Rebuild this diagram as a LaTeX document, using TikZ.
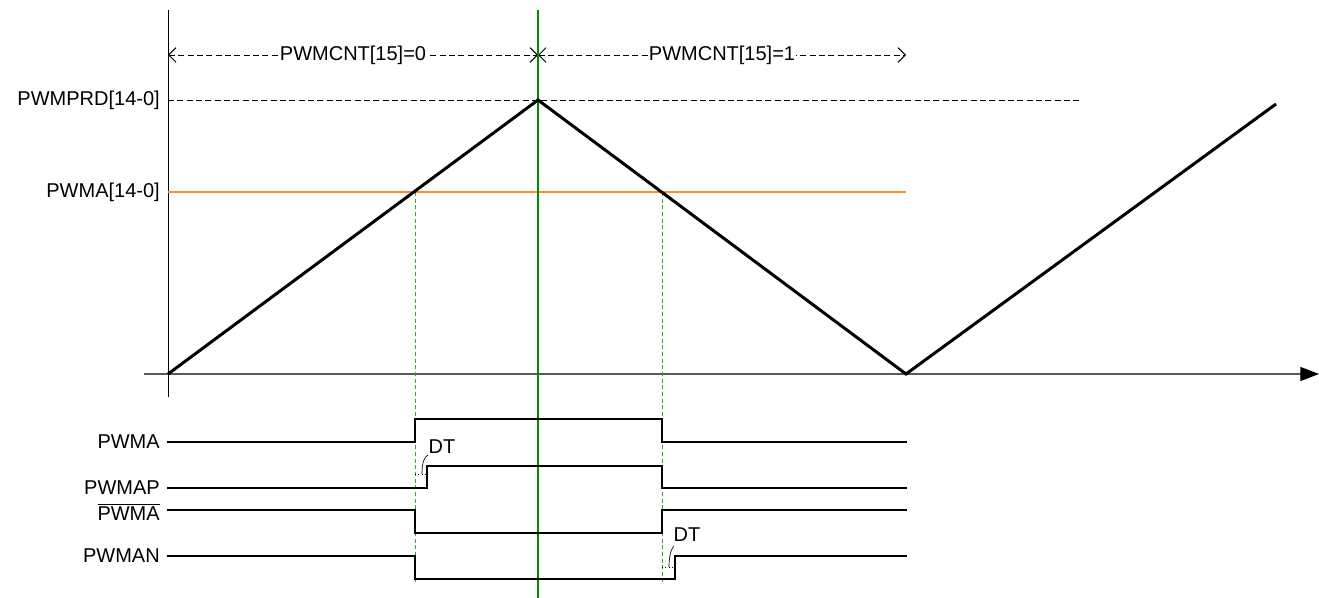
\documentclass[tikz,border=0pt]{standalone}
\usepackage{fontspec}
\setmainfont{Liberation Sans}
\usetikzlibrary{arrows.meta}
\definecolor{grn}{RGB}{0,140,0}
\definecolor{grnl}{RGB}{60,160,60}
\definecolor{org}{RGB}{255,140,50}
\definecolor{axgray}{RGB}{90,90,90}
\begin{document}
\begin{tikzpicture}[x=0.75pt,y=-0.75pt,
  lbl/.style={font=\fontsize{15}{18}\selectfont, inner sep=0pt, anchor=east},
  txt/.style={font=\fontsize{15}{18}\selectfont, inner sep=1pt},
  sig/.style={line width=1.5pt, line join=miter},
  tri/.style={line width=2.25pt, line join=miter},
  axisline/.style={axgray, line width=0.9pt},
  dimline/.style={line width=0.7pt, dash pattern=on 4.5pt off 2.5pt,
    {Straight Barb[length=5.5pt,width=11pt]}-{Straight Barb[length=5.5pt,width=11pt]}},
  refline/.style={line width=0.7pt, dash pattern=on 4.5pt off 2.5pt},
  guide/.style={grnl, line width=0.75pt, dash pattern=on 3pt off 2pt},
  dtmark/.style={line width=0.5pt, dotted},
  leader/.style={line width=0.5pt}
]
\useasboundingbox (0,0) rectangle (1319,598);

% key points
\coordinate (O) at (168,374);
\coordinate (P) at (538,100);
\coordinate (V) at (906,374);
\coordinate (E) at (1276,104);

% axes
\coordinate (ax0) at (144,374);
\coordinate (ax1) at (1319,374);
\draw[axisline, -{Triangle[length=14pt,width=10.5pt,color=black]}] (ax0) -- (ax1);
\coordinate (vy0) at (168,10);
\coordinate (vy1) at (168,397);
\draw[line width=0.75pt] (vy0) -- (vy1);

% level labels and lines
\node[lbl] (lprd) at (160,100) {PWMPRD[14-0]};
\node[lbl] (lcmp) at (160,192) {PWMA[14-0]};
\coordinate (prd0) at (168,100);
\coordinate (prd1) at (1080,100);
\draw[refline] (prd0) -- (prd1);
\coordinate (cmp0) at (168,192);
\coordinate (cmp1) at (906,192);
\draw[org, line width=1.1pt] (cmp0) -- (cmp1);

% dimension row
\coordinate (d0) at (168,55);
\coordinate (d1) at (538,55);
\coordinate (d2) at (906,55);
\draw[dimline] (d0) -- (d1) node[midway, fill=white, txt] (cnt0) {PWMCNT[15]=0};
\draw[dimline] (d1) -- (d2) node[midway, fill=white, txt] (cnt1) {PWMCNT[15]=1};

% guide lines
\coordinate (g1t) at (415,192);
\coordinate (g1b) at (415,582);
\coordinate (g2t) at (662,192);
\coordinate (g2b) at (662,582);
\draw[guide] (g1t) -- (g1b);
\draw[guide] (g2t) -- (g2b);

% green center line
\coordinate (gt) at (538,10);
\coordinate (gb) at (538,598);
\draw[grn, line width=1.5pt] (gt) -- (gb);

% triangle carrier
\draw[tri] (O) -- (P) -- (V) -- (E);

% signals
\node[lbl] (sA) at (160,442) {PWMA};
\node[lbl] (sAP) at (160,488) {PWMAP};
\node[lbl] (sAb) at (160,512) {$\overline{\hbox{PWMA}}$};
\node[lbl] (sAN) at (160,556) {PWMAN};

\draw[sig] (167,442) -- (415,442) -- (415,419) -- (662,419) -- (662,442) -- (907,442);
\draw[sig] (167,488) -- (427,488) -- (427,466) -- (662,466) -- (662,488) -- (907,488);
\draw[sig] (167,510) -- (415,510) -- (415,533) -- (662,533) -- (662,510) -- (907,510);
\draw[sig] (167,556) -- (415,556) -- (415,579) -- (675,579) -- (675,556) -- (907,556);

% dead-time markers
\coordinate (m1a) at (415,474);
\coordinate (m1b) at (427,474);
\draw[dtmark] (m1a) -- (m1b);
\node[txt, anchor=west] (dt1) at (427,447) {DT};
\coordinate (l1a) at (422,474);
\coordinate (l1b) at (428,455);
\draw[leader] (l1a) .. controls (422,463) and (424,457) .. (l1b);

\coordinate (m2a) at (662,567);
\coordinate (m2b) at (675,567);
\draw[dtmark] (m2a) -- (m2b);
\node[txt, anchor=west] (dt2) at (672,535) {DT};
\coordinate (l2a) at (669,567);
\coordinate (l2b) at (674,546);
\draw[leader] (l2a) .. controls (669,556) and (671,549) .. (l2b);
\end{tikzpicture}
\end{document}
